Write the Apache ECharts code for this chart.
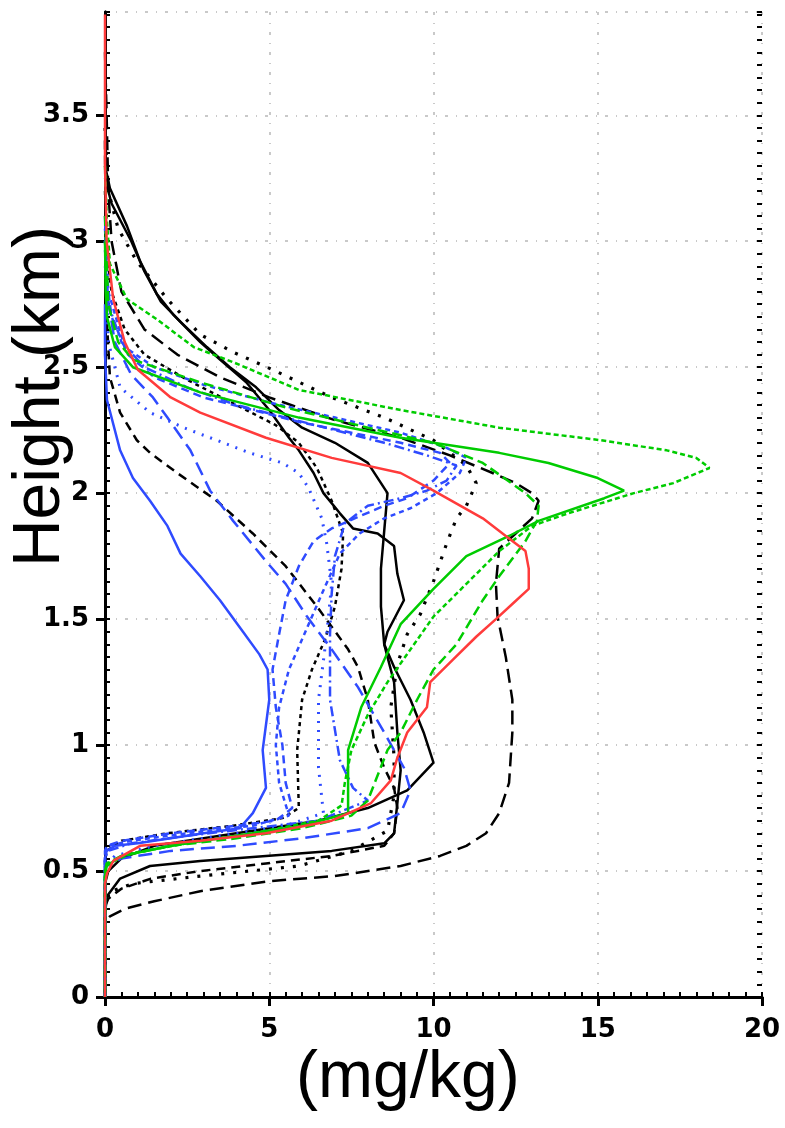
<!DOCTYPE html>
<html>
<head>
<meta charset="utf-8">
<script src="https://cdn.jsdelivr.net/npm/echarts@6/dist/echarts.min.js"></script>
<style>
  html, body { margin: 0; padding: 0; background: #fff; }
  #chart { width: 785px; height: 1128px; }
</style>
</head>
<body>
<div id="chart"></div>
<script>
// profiles: [mixing ratio (mg/kg), height (km)]
const redSolid = [[0,3.9],[0,3.3],[0.05,3.0],[0.25,2.77],[0.6,2.6],[1.0,2.49],[2.0,2.38],[2.9,2.32],[4.9,2.22],[6.9,2.14],[9.0,2.08],[10.0,2.01],[11.5,1.9],[12.3,1.82],[12.8,1.77],[12.9,1.7],[12.9,1.62],[12.4,1.56],[11.9,1.5],[11.3,1.43],[10.6,1.34],[9.9,1.25],[9.8,1.15],[9.2,1.05],[8.9,0.95],[8.7,0.86],[8.1,0.77],[6.9,0.7],[4.9,0.65],[2.9,0.62],[1.07,0.6],[0.25,0.54],[0.06,0.49],[0,0.45],[0,0]];

const greenSolid = [[0,3.0],[0.02,2.8],[0.06,2.7],[0.3,2.58],[0.85,2.5],[2.9,2.4],[5.9,2.3],[9.0,2.22],[12.0,2.16],[13.5,2.12],[15.0,2.06],[15.8,2.01],[15.2,1.98],[13.2,1.89],[12.3,1.83],[11.0,1.75],[10.0,1.62],[9.0,1.48],[8.4,1.31],[7.8,1.15],[7.4,0.98],[7.4,0.73],[6,0.68],[4,0.64],[2,0.6],[0.5,0.56],[0.05,0.52],[0,0.48],[0,0]];
const greenDot = [[0,3.3],[0.05,3.1],[0.15,2.91],[0.67,2.77],[1.58,2.69],[2.7,2.58],[3.9,2.52],[5.9,2.41],[9.0,2.33],[12.0,2.26],[15.1,2.21],[17.1,2.17],[18.0,2.14],[18.4,2.1],[17.3,2.04],[16.1,2.0],[14.1,1.92],[13.0,1.87],[12.0,1.77],[11.0,1.64],[10.0,1.51],[9.3,1.38],[8.6,1.25],[8.0,1.12],[7.5,0.98],[7.3,0.85],[7.2,0.76],[6.5,0.7],[4.5,0.65],[2.5,0.61],[0.8,0.57],[0.1,0.53],[0,0.5],[0,0]];
const greenDash = [[0,3.1],[0.1,2.75],[0.4,2.6],[0.85,2.53],[2.9,2.44],[5.5,2.34],[8.0,2.26],[10.0,2.2],[11.5,2.12],[12.8,2.0],[13.2,1.95],[13.15,1.89],[12.8,1.81],[12.0,1.67],[11.5,1.575],[10.7,1.4],[10.0,1.3],[9.5,1.18],[9.0,1.05],[8.6,0.98],[8.3,0.88],[8.0,0.78],[7.5,0.72],[6,0.67],[4,0.63],[2,0.6],[0.5,0.56],[0.05,0.53],[0,0.5],[0,0]];

const blueSolid = [[0,2.75],[0,2.55],[0.06,2.37],[0.46,2.17],[0.85,2.06],[1.37,1.97],[1.9,1.87],[2.3,1.76],[2.9,1.67],[3.5,1.575],[4.2,1.45],[4.7,1.36],[4.95,1.3],[5.0,1.18],[4.8,0.98],[4.9,0.83],[4.5,0.73],[4.1,0.67],[3,0.65],[2,0.63],[1,0.61],[0.3,0.6],[0.05,0.58],[0,0.55],[0,0]];
const blueLongDash = [[0,3.1],[0.05,2.8],[0.3,2.6],[0.8,2.47],[1.46,2.38],[1.9,2.3],[2.6,2.17],[3.2,2.01],[3.9,1.89],[4.9,1.73],[5.5,1.64],[6.15,1.51],[6.9,1.38],[7.7,1.23],[8.5,1.05],[9.1,0.91],[9.3,0.82],[9.0,0.73],[8,0.67],[6,0.63],[4,0.6],[2,0.58],[0.5,0.55],[0.05,0.52],[0,0.5],[0,0]];
const blueDashDot = [[0,3.0],[0.1,2.75],[0.5,2.6],[1.2,2.5],[2.5,2.42],[4,2.35],[5.5,2.3],[7,2.25],[8.5,2.2],[9.8,2.15],[10.7,2.11],[10.4,2.05],[9.8,2.01],[9.0,1.98],[8.0,1.95],[7.3,1.88],[7.0,1.75],[6.9,1.6],[6.85,1.44],[6.85,1.18],[7.15,0.94],[7.55,0.83],[8.0,0.78],[6.5,0.7],[4.5,0.67],[2.5,0.64],[0.8,0.61],[0.1,0.58],[0,0.55],[0,0]];
const blueDash = [[0,2.9],[0.2,2.7],[0.7,2.55],[1.5,2.46],[3,2.38],[4.5,2.33],[6,2.28],[7.5,2.24],[9,2.2],[10.2,2.16],[10.5,2.12],[10.0,2.05],[9.2,1.98],[8.5,1.95],[7.6,1.9],[6.9,1.86],[6.35,1.81],[5.9,1.71],[5.5,1.575],[5.3,1.44],[5.1,1.3],[5.2,1.15],[5.4,1.0],[5.5,0.85],[5.7,0.75],[5.2,0.7],[4,0.68],[2,0.65],[0.5,0.62],[0.05,0.6],[0,0.58],[0,0]];
const blueDot = [[0,3.0],[0.1,2.6],[0.46,2.42],[1.37,2.32],[2.4,2.26],[3.4,2.21],[4.4,2.16],[5.4,2.12],[5.9,2.08],[6.2,2.02],[6.6,1.9],[6.75,1.8],[6.9,1.64],[6.75,1.44],[6.5,1.18],[6.5,0.91],[6.65,0.73],[5.5,0.68],[3.5,0.64],[1.5,0.6],[0.3,0.56],[0,0.52],[0,0]];
const blueShortDash = [[0,3.05],[0.1,2.8],[0.6,2.58],[1.5,2.5],[3,2.43],[5,2.36],[7,2.3],[9,2.24],[10.4,2.18],[11.0,2.14],[10.8,2.08],[10.1,2.0],[9.3,1.94],[8.5,1.9],[7.75,1.84],[7.15,1.76],[6.6,1.6],[6.1,1.45],[5.6,1.3],[5.3,1.15],[5.2,1.0],[5.3,0.85],[5.6,0.72],[4.5,0.68],[2.5,0.65],[0.8,0.62],[0.1,0.6],[0,0.57],[0,0]];

const blackLongDash = [[0,3.75],[0.05,3.5],[0.1,3.2],[0.2,3.0],[0.5,2.8],[1.2,2.65],[2.2,2.55],[3.5,2.46],[5,2.38],[7,2.29],[9,2.22],[10.5,2.15],[11.8,2.08],[12.5,2.04],[13.0,2.0],[13.2,1.97],[13.0,1.9],[12.5,1.84],[12.0,1.78],[11.9,1.64],[11.95,1.51],[12.2,1.35],[12.4,1.18],[12.4,1.05],[12.3,0.85],[12.0,0.73],[11.6,0.65],[11.0,0.6],[10.2,0.56],[9.0,0.52],[7,0.48],[5,0.46],[2.9,0.42],[1.5,0.38],[0.6,0.35],[0.15,0.32],[0,0.3],[0,0]];
const blackDash = [[0,3.4],[0.02,3.0],[0.05,2.7],[0.15,2.46],[0.46,2.32],[0.97,2.21],[1.37,2.16],[2.2,2.08],[3.4,1.97],[4.5,1.84],[5.5,1.71],[6.45,1.55],[6.9,1.47],[7.4,1.38],[7.7,1.31],[8.0,1.18],[8.2,1.01],[8.5,0.91],[8.8,0.83],[8.9,0.75],[8.8,0.65],[8.5,0.6],[6.9,0.56],[4.9,0.53],[2.9,0.5],[1.4,0.47],[0.5,0.43],[0.1,0.39],[0,0.36],[0,0]];
const blackSolid = [[0,3.3],[0.15,3.21],[0.67,3.06],[1.07,2.92],[1.58,2.79],[2.07,2.71],[2.9,2.6],[3.5,2.53],[4.3,2.44],[5.0,2.33],[5.6,2.22],[5.9,2.17],[6.35,2.08],[6.65,2.0],[7.15,1.92],[7.55,1.86],[8.3,1.84],[8.8,1.79],[8.9,1.68],[9.1,1.575],[8.6,1.45],[8.5,1.4],[8.8,1.31],[9.3,1.18],[9.7,1.05],[10.0,0.93],[9.2,0.82],[8.0,0.75],[6.5,0.7],[5,0.67],[3,0.63],[1.5,0.6],[0.5,0.55],[0.1,0.5],[0,0.45],[0,0]];
const blackDot = [[0,3.45],[0.1,3.2],[0.4,3.05],[0.97,2.92],[1.9,2.77],[2.9,2.63],[3.9,2.56],[5.1,2.49],[6.9,2.38],[8.5,2.3],[10.0,2.21],[11.0,2.11],[11.3,2.04],[11.0,1.95],[10.7,1.9],[10.4,1.8],[10.0,1.65],[9.6,1.52],[9.2,1.44],[8.9,1.32],[8.7,1.15],[8.8,0.95],[8.8,0.8],[8.6,0.66],[7.5,0.58],[5.9,0.52],[2.9,0.48],[0.85,0.45],[0.2,0.42],[0,0.4],[0,0]];
const blackShortDash = [[0,3.2],[0.05,2.95],[0.2,2.8],[0.6,2.65],[1.2,2.55],[2.5,2.45],[4,2.35],[5.2,2.27],[5.9,2.2],[6.45,2.1],[6.9,1.97],[7.25,1.84],[7.2,1.7],[7.0,1.55],[6.7,1.42],[6.3,1.3],[6.0,1.18],[5.85,0.98],[5.9,0.75],[5.4,0.71],[3.9,0.68],[1.9,0.65],[0.5,0.62],[0.05,0.58],[0,0.55],[0,0]];
const blackSolid2 = [[0,3.25],[0.2,3.15],[0.8,3.0],[1.2,2.88],[1.7,2.76],[2.3,2.68],[3.1,2.58],[3.8,2.5],[4.6,2.42],[5.3,2.33],[6.0,2.26],[7.0,2.2],[8.0,2.12],[8.6,2.0],[8.5,1.85],[8.4,1.7],[8.4,1.55],[8.5,1.4],[8.8,1.25],[8.9,1.05],[9.0,0.9],[8.9,0.77],[8.8,0.65],[8.5,0.61],[6.9,0.58],[4.9,0.56],[2.9,0.54],[1.37,0.52],[0.46,0.47],[0.06,0.4],[0,0.33],[0,0]];

const xTicks = [0, 5, 10, 15, 20];
const yTicks = [0, 0.5, 1, 1.5, 2, 2.5, 3, 3.5];

const BLACK = "#000000", BLUE = "#2f4bff", GREEN = "#00cc00", RED = "#ff3b3b";

const profiles = [
  { data: blackLongDash, color: BLACK, type: [14, 7] },
  { data: blackDash, color: BLACK, type: [9, 6] },
  { data: blackSolid, color: BLACK, type: "solid" },
  { data: blackDot, color: BLACK, type: [3, 9], width: 3.2 },
  { data: blackShortDash, color: BLACK, type: [4, 4] },
  { data: blackSolid2, color: BLACK, type: "solid" },
  { data: blueSolid, color: BLUE, type: "solid" },
  { data: blueLongDash, color: BLUE, type: [14, 7] },
  { data: blueDashDot, color: BLUE, type: [10, 4, 2, 4] },
  { data: blueDash, color: BLUE, type: [8, 5] },
  { data: blueDot, color: BLUE, type: [2, 7], width: 3 },
  { data: blueShortDash, color: BLUE, type: [5, 4] },
  { data: greenDash, color: GREEN, type: [10, 5] },
  { data: greenDot, color: GREEN, type: [5, 3] },
  { data: greenSolid, color: GREEN, type: "solid" },
  { data: redSolid, color: RED, type: "solid" },
];

const chart = echarts.init(document.getElementById("chart"));

const labelFont = {
  color: "#000",
  fontSize: 26,
  fontWeight: "bold",
  fontFamily: "'DejaVu Sans', sans-serif",
};
const gridLine = { show: true, lineStyle: { color: "#b8b8b8", width: 1.5, type: [3, 8, 1, 8] } };
const axisLine = { show: true, lineStyle: { color: "#000", width: 3 } };
// small ticks: drawn outward from an axis shifted 5px into the plot, so they end on the frame
const smallTick = { show: true, length: 5, lineStyle: { color: "#000", width: 2 } };
const hidden = { show: false };

const option = {
  animation: false,
  backgroundColor: "#fff",
  grid: { left: 105, right: 23, top: 12, bottom: 131 },
  xAxis: [
    {
      type: "value", position: "bottom", min: 0, max: 20, interval: 5,
      axisLine: axisLine,
      axisTick: { show: true, length: 9, lineStyle: { color: "#000", width: 3 } },
      axisLabel: Object.assign({ margin: 20, formatter: (v) => (xTicks.includes(v) ? String(v) : "") }, labelFont),
      splitLine: gridLine,
    },
    {
      type: "value", position: "bottom", offset: -5, min: 0, max: 20, interval: 0.5,
      axisLine: hidden, axisTick: smallTick, axisLabel: hidden, splitLine: hidden,
    },
    {
      type: "value", position: "top", min: 0, max: 20, interval: 5,
      axisLine: axisLine, axisTick: hidden, axisLabel: hidden, splitLine: hidden,
    },
  ],
  yAxis: [
    {
      type: "value", position: "left", min: 0, max: 3.91, interval: 0.5,
      axisLine: axisLine,
      axisTick: { show: true, length: 9, lineStyle: { color: "#000", width: 3 } },
      axisLabel: Object.assign({ margin: 16, showMaxLabel: false, formatter: (v) => (yTicks.includes(v) ? String(v) : "") }, labelFont),
      splitLine: gridLine,
    },
    {
      type: "value", position: "left", offset: -5, min: 0, max: 3.91, interval: 0.05,
      axisLine: hidden, axisTick: smallTick, axisLabel: hidden, splitLine: hidden,
    },
    {
      type: "value", position: "right", min: 0, max: 3.91, interval: 0.5,
      axisLine: axisLine, axisTick: hidden, axisLabel: hidden, splitLine: hidden,
    },
    {
      type: "value", position: "right", offset: -5, min: 0, max: 3.91, interval: 0.05,
      axisLine: hidden, axisTick: smallTick, axisLabel: hidden, splitLine: hidden,
    },
  ],
  graphic: [
    {
      type: "text", left: 8, top: 226, rotation: Math.PI / 2,
      style: { text: "Height (km)", fill: "#000", font: "66px 'Liberation Sans', Arial, sans-serif" },
    },
    {
      type: "text", left: 296, top: 1046,
      style: { text: "(mg/kg)", fill: "#000", font: "66px 'Liberation Sans', Arial, sans-serif" },
    },
  ],
  series: profiles.map((p) => ({
    type: "line",
    data: p.data,
    showSymbol: false,
    symbol: "none",
    lineStyle: { color: p.color, width: p.width || 2.5, type: p.type },
    silent: true,
  })),
};

chart.setOption(option);
</script>
</body>
</html>
